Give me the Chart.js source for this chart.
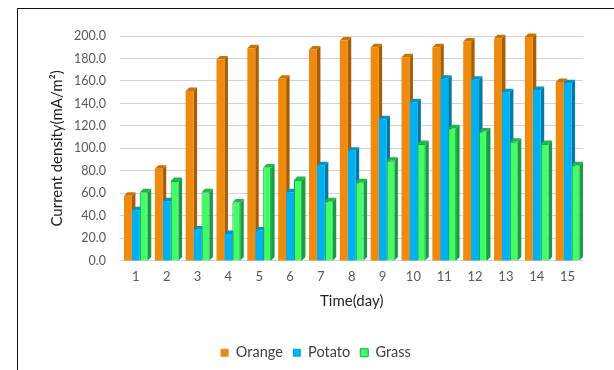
<!DOCTYPE html>
<html>
<head>
<meta charset="utf-8">
<script src="https://cdn.jsdelivr.net/npm/chart.js@4/dist/chart.umd.min.js"></script>
<style>
  html, body { margin: 0; padding: 0; background: #fff; }
  #wrap { position: relative; width: 614px; height: 370px; overflow: hidden; }
  #frame { position: absolute; left: 17px; top: 8px; width: 700px; height: 500px;
           border-left: 1.5px solid #111; border-top: 1.5px solid #111; pointer-events: none; }
  canvas { position: absolute; left: 0; top: 0; }
</style>
</head>
<body>
<div id="wrap">
  <canvas id="c" width="614" height="370"></canvas>
  <div id="frame"></div>
</div>
<script>
const categories = ["1","2","3","4","5","6","7","8","9","10","11","12","13","14","15"];
const orange = [58, 82, 151, 179, 189, 162, 188, 196, 190, 181, 190, 195, 198, 199, 159];
const potato = [45, 53, 28, 24, 27, 61, 85, 98, 126, 141, 162, 161, 150, 152, 158];
const grass  = [61, 71, 61, 52, 83, 72, 53, 70, 89, 104, 118, 115, 106, 104, 85];
const seriesNames = ["Orange", "Potato", "Grass"];
const yTicks = [0, 20, 40, 60, 80, 100, 120, 140, 160, 180, 200];

const fronts = ["#EE8A0E", "#00B0F0", "#40FF62"];
const borders = ["#EE8A0E", "#00B0F0", "#18A844"];
const sides = ["#A85E00", "#0078A8", "#14A040"];
const caps = ["#C87208", "#0094CC", "#1DB848"];
const D = 3.5;

const bar3d = {
  id: 'bar3d',
  beforeDatasetsDraw(chart) {
    const ctx = chart.ctx;
    ctx.save();
    const nCat = categories.length;
    for (let i = 0; i < nCat; i++) {
      for (let d = 0; d < chart.data.datasets.length; d++) {
        const meta = chart.getDatasetMeta(d);
        const el = meta.data[i];
        if (!el) continue;
        const p = el.getProps(['x', 'y', 'base', 'width'], true);
        const x1 = p.x - p.width / 2, x2 = p.x + p.width / 2;
        const top = p.y, base = p.base;
        ctx.fillStyle = sides[d];
        ctx.beginPath();
        ctx.moveTo(x2, top);
        ctx.lineTo(x2 + D, top - D);
        ctx.lineTo(x2 + D, base - D);
        ctx.lineTo(x2, base);
        ctx.closePath();
        ctx.fill();
        ctx.fillStyle = caps[d];
        ctx.beginPath();
        ctx.moveTo(x1, top);
        ctx.lineTo(x1 + D, top - D);
        ctx.lineTo(x2 + D, top - D);
        ctx.lineTo(x2, top);
        ctx.closePath();
        ctx.fill();
      }
    }
    ctx.restore();
  }
};

new Chart(document.getElementById('c'), {
  type: 'bar',
  data: {
    labels: categories,
    datasets: [
      { label: seriesNames[0], data: orange, backgroundColor: fronts[0], borderColor: borders[0], borderWidth: 0 },
      { label: seriesNames[1], data: potato, backgroundColor: fronts[1], borderColor: borders[1], borderWidth: 0 },
      { label: seriesNames[2], data: grass, backgroundColor: fronts[2], borderColor: borders[2], borderWidth: 1 }
    ]
  },
  plugins: [bar3d],
  options: {
    responsive: false,
    animation: false,
    layout: { padding: { left: 48.5, right: 31, top: 36, bottom: 0 } },
    datasets: { bar: { categoryPercentage: 0.77, barPercentage: 1.0 } },
    plugins: {
      legend: {
        position: 'bottom',
        labels: {
          font: { family: 'Lato', size: 14.5 },
          color: '#404040',
          boxWidth: 8, boxHeight: 8, padding: 10
        }
      },
      tooltip: { enabled: false }
    },
    scales: {
      x: {
        grid: { display: false, drawTicks: false },
        border: { display: false },
        ticks: { font: { family: 'Lato', size: 13 }, color: '#595959', padding: 8 },
        title: { display: true, text: 'Time(day)', font: { family: 'Lato', size: 15 }, color: '#262626', padding: { top: 0, bottom: 25 } }
      },
      y: {
        min: 0, max: 200,
        afterBuildTicks(axis) { axis.ticks = yTicks.map(v => ({ value: v })); },
        grid: { color: '#D4D4D4', lineWidth: 1, drawTicks: false },
        border: { display: false },
        ticks: { font: { family: 'Lato', size: 12.5 }, color: '#595959', padding: 14.5,
                 callback: v => Number(v).toFixed(1) },
        title: { display: true, text: 'Current density(mA/m²)', font: { family: 'Lato', size: 15 }, color: '#1a1a1a', padding: { top: 0, bottom: -7 } }
      }
    }
  }
});
</script>
</body>
</html>
